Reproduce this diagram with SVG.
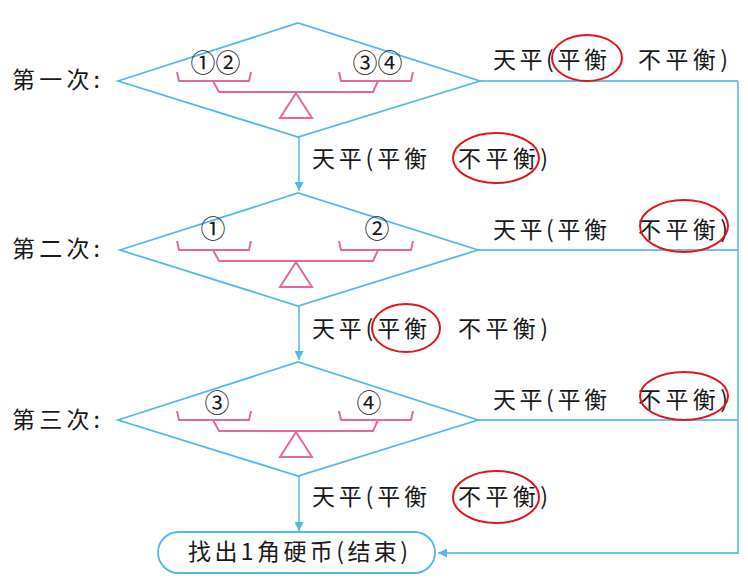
<svg xmlns="http://www.w3.org/2000/svg" width="748" height="586" viewBox="0 0 748 586">
<defs>
<style>
.t{font-family:"Noto Sans CJK SC","Noto Sans",sans-serif;font-size:23px;fill:#1a1a1a}
.n{font-family:"Noto Sans CJK SC","DejaVu Sans",sans-serif;font-size:25px;fill:#1a1a1a}
.dia{fill:none;stroke:#55B9E6;stroke-width:1.8;stroke-linejoin:miter}
.ln{fill:none;stroke:#6EC3EC;stroke-width:1.8}
.sc{fill:none;stroke:#E4679E;stroke-width:2}
.red{fill:none;stroke:#E4141C;stroke-width:2}
</style>
<marker id="ah" viewBox="0 0 10 10" refX="10" refY="5" markerWidth="9" markerHeight="9" markerUnits="userSpaceOnUse" orient="auto">
<path d="M0,0 L10,5 L0,10 Z" fill="#55B9E6"/>
</marker>
<g id="scale">
<polyline class="sc" points="-121,-9 -119,0 -49,0 -47,-9"/>
<polyline class="sc" points="41,-9 43,0 113,0 115,-9"/>
<polyline class="sc" points="-85,0 -79,11 75,11 80,0"/>
<polygon class="sc" points="-2,12 -18,37 14,37"/>
</g>
</defs>
<rect width="748" height="586" fill="#fff"/>

<g id="connectors">
<line class="ln" x1="299" y1="137" x2="299" y2="191" marker-end="url(#ah)"/>
<line class="ln" x1="299" y1="306" x2="299" y2="360" marker-end="url(#ah)"/>
<line class="ln" x1="299" y1="476" x2="299" y2="531" marker-end="url(#ah)"/>
<line class="ln" x1="480" y1="81" x2="738" y2="81"/>
<line class="ln" x1="478" y1="250" x2="738" y2="250"/>
<line class="ln" x1="478" y1="420" x2="738" y2="420"/>
<polyline class="ln" points="738,81 738,553 438,553" marker-end="url(#ah)"/>
</g>

<g id="step1">
<text class="t" x="12" y="88" textLength="88" lengthAdjust="spacing">第一次:</text>
<polygon class="dia" points="118,81 298,23 480,81 298,137"/>
<use href="#scale" x="298" y="81"/>
<text class="n" x="203" y="72" text-anchor="middle">①</text>
<text class="n" x="228" y="72" text-anchor="middle">②</text>
<text class="n" x="365" y="72" text-anchor="middle">③</text>
<text class="n" x="390" y="72" text-anchor="middle">④</text>
</g>

<g id="step2">
<text class="t" x="12" y="257" textLength="88" lengthAdjust="spacing">第二次:</text>
<polygon class="dia" points="120,250 298,193 478,250 298,306"/>
<use href="#scale" x="298" y="250"/>
<text class="n" x="213" y="238" text-anchor="middle">①</text>
<text class="n" x="377" y="238" text-anchor="middle">②</text>
</g>

<g id="step3">
<text class="t" x="12" y="428" textLength="88" lengthAdjust="spacing">第三次:</text>
<polygon class="dia" points="118,420 298,362 478,420 298,476"/>
<use href="#scale" x="298" y="420"/>
<text class="n" x="217" y="412" text-anchor="middle">③</text>
<text class="n" x="369" y="412" text-anchor="middle">④</text>
</g>

<g id="label-r1">
<text class="t" x="493" y="68" textLength="114" lengthAdjust="spacing">天平(平衡</text>
<text class="t" x="638" y="68" textLength="90" lengthAdjust="spacing">不平衡)</text>
<ellipse class="red" cx="587" cy="58" rx="35" ry="23"/>
</g>
<g id="label-m1">
<text class="t" x="312" y="167" textLength="115" lengthAdjust="spacing">天平(平衡</text>
<text class="t" x="458" y="167" textLength="90" lengthAdjust="spacing">不平衡)</text>
<ellipse class="red" cx="496" cy="158" rx="43" ry="25"/>
</g>
<g id="label-r2">
<text class="t" x="493" y="238" textLength="114" lengthAdjust="spacing">天平(平衡</text>
<text class="t" x="638" y="238" textLength="90" lengthAdjust="spacing">不平衡)</text>
<ellipse class="red" cx="684" cy="226" rx="44" ry="26"/>
</g>
<g id="label-m2">
<text class="t" x="312" y="337" textLength="115" lengthAdjust="spacing">天平(平衡</text>
<text class="t" x="458" y="337" textLength="90" lengthAdjust="spacing">不平衡)</text>
<ellipse class="red" cx="406" cy="328" rx="34" ry="24"/>
</g>
<g id="label-r3">
<text class="t" x="493" y="408" textLength="114" lengthAdjust="spacing">天平(平衡</text>
<text class="t" x="638" y="408" textLength="90" lengthAdjust="spacing">不平衡)</text>
<ellipse class="red" cx="684" cy="396" rx="44" ry="24"/>
</g>
<g id="label-m3">
<text class="t" x="312" y="505" textLength="115" lengthAdjust="spacing">天平(平衡</text>
<text class="t" x="458" y="505" textLength="90" lengthAdjust="spacing">不平衡)</text>
<ellipse class="red" cx="496" cy="497" rx="43" ry="26"/>
</g>

<g id="end">
<rect x="158" y="532" width="277" height="41" rx="20.5" fill="none" stroke="#55B9E6" stroke-width="1.8"/>
<text class="t" x="188" y="560" textLength="220" lengthAdjust="spacing">找出1角硬币(结束)</text>
</g>
</svg>
